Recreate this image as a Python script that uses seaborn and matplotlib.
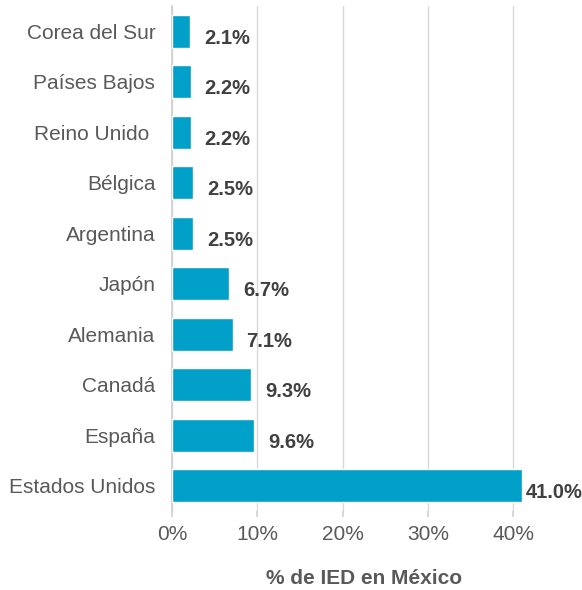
import numpy as np
import pandas as pd
import matplotlib.pyplot as plt
import seaborn as sns
from matplotlib.ticker import PercentFormatter

# data
paises = ['Corea del Sur', 'Países Bajos', 'Reino Unido ', 'Bélgica', 'Argentina',
          'Japón', 'Alemania', 'Canadá', 'España', 'Estados Unidos']
valores = [2.1, 2.2, 2.2, 2.5, 2.5, 6.7, 7.1, 9.3, 9.6, 41.0]

df = pd.DataFrame({'pais': paises, 'valor': valores})

sns.set_theme(style='white')
plt.rcParams['font.family'] = ['Liberation Sans', 'DejaVu Sans']

fig = plt.figure(figsize=(5.82, 5.9), dpi=100)
ax = fig.add_axes([0.2955, 0.134, 0.66, 0.856])

sns.barplot(data=df, x='valor', y='pais', color='#00A0C9', saturation=1,
            width=0.65, ax=ax, zorder=3)

ax.set_xlim(0, 45)
ax.set_ylim(9.5, -0.5)
ax.set_xticks([0, 10, 20, 30, 40])
ax.xaxis.set_major_formatter(PercentFormatter(decimals=0))
ax.grid(axis='x', color='#d9d9d9', linewidth=1, zorder=0)
for s in ['top', 'right', 'bottom']:
    ax.spines[s].set_visible(False)
ax.spines['left'].set_color('#d0d0d0')
ax.tick_params(axis='x', colors='#595959', labelsize=15, length=4, color='#d0d0d0',
               bottom=True, pad=6)
ax.tick_params(axis='y', colors='#595959', labelsize=15, length=0, pad=12)

for i, v in enumerate(valores):
    dx = 3 if v > 40 else 10
    ax.annotate(f'{v:.1f}%', xy=(v, i), xytext=(dx, -5), textcoords='offset points',
                ha='left', va='center', fontsize=14.5, fontweight='bold', color='#404040')

ax.set_ylabel('')
ax.set_xlabel('% de IED en México', fontsize=15, fontweight='bold', color='#595959',
              labelpad=18)

fig.savefig('out.png', dpi=100)
